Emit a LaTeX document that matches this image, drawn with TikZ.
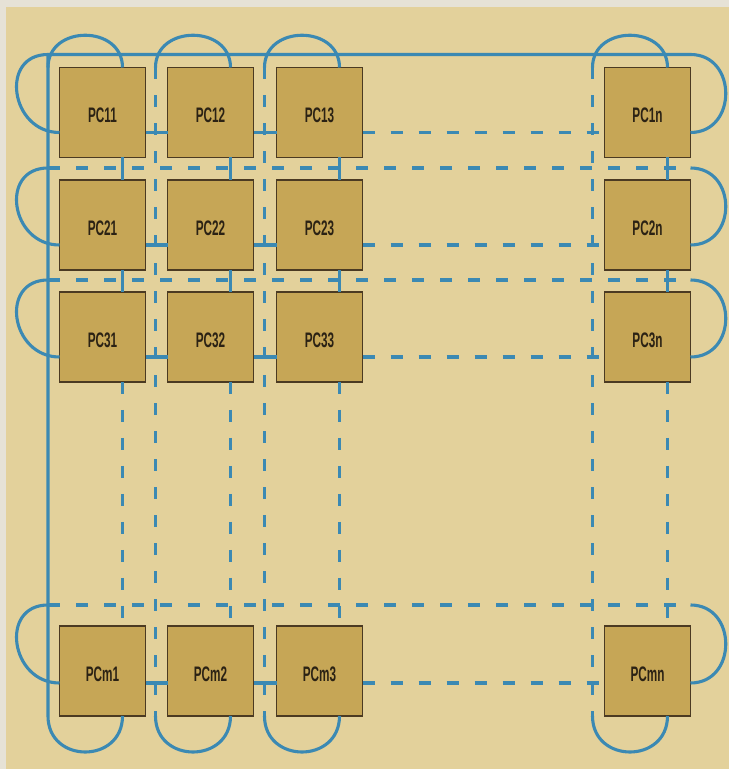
\documentclass[tikz,border=0pt]{standalone}
\usepackage{fontspec}
\newfontfamily\pcfont[FakeStretch=0.56]{Liberation Sans}
\usepackage{tikz}
\usetikzlibrary{
    positioning,
    calc
}
\definecolor{paper}{HTML}{E3D19B}
\definecolor{margin}{HTML}{E6E2D6}
\definecolor{boxfill}{HTML}{C6A656}
\definecolor{boxline}{HTML}{4B3A22}
\definecolor{wireblue}{HTML}{3B89B3}
\definecolor{pctext}{HTML}{2B2214}
\tikzstyle{pcbox} = [
    rectangle,
    draw=boxline,
    fill=boxfill,
    line width=1.6pt,
    minimum width=86pt,
    minimum height=90pt,
    inner sep=0pt,
    outer sep=0pt,
    text=pctext,
    text height=21pt,
    text depth=0pt,
    font=\pcfont\bfseries\fontsize{21}{21}\selectfont
]
\tikzstyle{wire} = [
    draw=wireblue,
    line width=3.1pt
]
\tikzstyle{dashwire} = [
    wire,
    dash pattern=on 12pt off 16pt
]
\begin{document}
\begin{tikzpicture}[x=1pt, y=1pt]
        \fill[margin] (0,0) rectangle (729,769);
        \fill[paper] (6,0) rectangle (729,762);
        \useasboundingbox (0,0) rectangle (729,769);

        % processors
        \node[pcbox] (PC11) at (102.5,656.5) {PC11};
        \node[pcbox, right=22pt of PC11] (PC12) {PC12};
        \node[pcbox, right=23pt of PC12] (PC13) {PC13};
        \node[pcbox, right=242pt of PC13] (PC1n) {PC1n};

        \node[pcbox, below=22.5pt of PC11] (PC21) {PC21};
        \node[pcbox, below=22.5pt of PC12] (PC22) {PC22};
        \node[pcbox, below=22.5pt of PC13] (PC23) {PC23};
        \node[pcbox, below=22.5pt of PC1n] (PC2n) {PC2n};

        \node[pcbox, below=22pt of PC21] (PC31) {PC31};
        \node[pcbox, below=22pt of PC22] (PC32) {PC32};
        \node[pcbox, below=22pt of PC23] (PC33) {PC33};
        \node[pcbox, below=22pt of PC2n] (PC3n) {PC3n};

        \node[pcbox, below=244pt of PC31] (PCm1) {PCm1};
        \node[pcbox, below=244pt of PC32] (PCm2) {PCm2};
        \node[pcbox, below=244pt of PC33] (PCm3) {PCm3};
        \node[pcbox, below=244pt of PC3n] (PCmn) {PCmn};

        % ends of the wrap-around lines
        \coordinate (tl) at (48,714.5);
        \coordinate (r1r) at (690.5,714.5);
        \coordinate (r2l) at (48,601);    \coordinate (r2r) at (690.5,601);
        \coordinate (r3l) at (48,489);    \coordinate (r3r) at (690.5,489);
        \coordinate (rml) at (48,164);    \coordinate (rmr) at (690.5,164);
        \coordinate (c1t) at (48,701.5);  \coordinate (c1b) at (48,53);
        \coordinate (c2t) at (155.5,701.5); \coordinate (c2b) at (155.5,53);
        \coordinate (c3t) at (264.5,701.5); \coordinate (c3b) at (264.5,53);
        \coordinate (cnt) at (592.5,701.5); \coordinate (cnb) at (592.5,53);

        % row links
        \draw[wire] ([yshift=-20pt]PC11.east) -- ([yshift=-20pt]PC12.west);
        \draw[wire] ([yshift=-20pt]PC12.east) -- ([yshift=-20pt]PC13.west);
        \draw[dashwire] ([yshift=-20pt]PC13.east) -- ([yshift=-20pt]PC1n.west);
        \draw[wire] ([yshift=-20pt]PC21.east) -- ([yshift=-20pt]PC22.west);
        \draw[wire] ([yshift=-20pt]PC22.east) -- ([yshift=-20pt]PC23.west);
        \draw[dashwire] ([yshift=-20pt]PC23.east) -- ([yshift=-20pt]PC2n.west);
        \draw[wire] ([yshift=-20pt]PC31.east) -- ([yshift=-20pt]PC32.west);
        \draw[wire] ([yshift=-20pt]PC32.east) -- ([yshift=-20pt]PC33.west);
        \draw[dashwire] ([yshift=-20pt]PC33.east) -- ([yshift=-20pt]PC3n.west);
        \draw[wire] ([yshift=-12pt]PCm1.east) -- ([yshift=-12pt]PCm2.west);
        \draw[wire] ([yshift=-12pt]PCm2.east) -- ([yshift=-12pt]PCm3.west);
        \draw[dashwire] ([yshift=-12pt]PCm3.east) -- ([yshift=-12pt]PCmn.west);

        % column links
        \draw[wire] ([xshift=20pt]PC11.south) -- ([xshift=20pt]PC21.north);
        \draw[wire] ([xshift=20pt]PC21.south) -- ([xshift=20pt]PC31.north);
        \draw[dashwire] ([xshift=20pt]PC31.south) -- ([xshift=20pt]PCm1.north);
        \draw[wire] ([xshift=20pt]PC12.south) -- ([xshift=20pt]PC22.north);
        \draw[wire] ([xshift=20pt]PC22.south) -- ([xshift=20pt]PC32.north);
        \draw[dashwire] ([xshift=20pt]PC32.south) -- ([xshift=20pt]PCm2.north);
        \draw[wire] ([xshift=20pt]PC13.south) -- ([xshift=20pt]PC23.north);
        \draw[wire] ([xshift=20pt]PC23.south) -- ([xshift=20pt]PC33.north);
        \draw[dashwire] ([xshift=20pt]PC33.south) -- ([xshift=20pt]PCm3.north);
        \draw[wire] ([xshift=20pt]PC1n.south) -- ([xshift=20pt]PC2n.north);
        \draw[wire] ([xshift=20pt]PC2n.south) -- ([xshift=20pt]PC3n.north);
        \draw[dashwire] ([xshift=20pt]PC3n.south) -- ([xshift=20pt]PCmn.north);

        % row wrap-arounds
        \draw[wire] ([yshift=-20pt]PC11.west) .. controls +(-49,0) and +(-49,0) .. (tl)
            -- (r1r) .. controls +(47,0) and +(47,0) .. ([yshift=-20pt]PC1n.east);
        \draw[wire] ([yshift=-20pt]PC21.west) .. controls +(-49,0) and +(-49,0) .. (r2l);
        \draw[dashwire] (r2l) -- (r2r);
        \draw[wire] (r2r) .. controls +(47,0) and +(47,0) .. ([yshift=-20pt]PC2n.east);
        \draw[wire] ([yshift=-20pt]PC31.west) .. controls +(-49,0) and +(-49,0) .. (r3l);
        \draw[dashwire] (r3l) -- (r3r);
        \draw[wire] (r3r) .. controls +(47,0) and +(47,0) .. ([yshift=-20pt]PC3n.east);
        \draw[wire] ([yshift=-12pt]PCm1.west) .. controls +(-49,0) and +(-49,0) .. (rml);
        \draw[dashwire] (rml) -- (rmr);
        \draw[wire] (rmr) .. controls +(47,0) and +(47,0) .. ([yshift=-12pt]PCmn.east);

        % column wrap-arounds
        \draw[wire] (c1t) .. controls +(0,43) and +(0,43) .. ([xshift=20pt]PC11.north);
        \draw[wire] (tl) -- (c1b) .. controls +(0,-48) and +(0,-48) .. ([xshift=20pt]PCm1.south);
        \draw[wire] (c2t) .. controls +(0,43) and +(0,43) .. ([xshift=20pt]PC12.north);
        \draw[dashwire] (c2t) -- (c2b);
        \draw[wire] (c2b) .. controls +(0,-48) and +(0,-48) .. ([xshift=20pt]PCm2.south);
        \draw[wire] (c3t) .. controls +(0,43) and +(0,43) .. ([xshift=20pt]PC13.north);
        \draw[dashwire] (c3t) -- (c3b);
        \draw[wire] (c3b) .. controls +(0,-48) and +(0,-48) .. ([xshift=20pt]PCm3.south);
        \draw[wire] (cnt) .. controls +(0,43) and +(0,43) .. ([xshift=20pt]PC1n.north);
        \draw[dashwire] (cnt) -- (cnb);
        \draw[wire] (cnb) .. controls +(0,-48) and +(0,-48) .. ([xshift=20pt]PCmn.south);
    \end{tikzpicture}
\end{document}
